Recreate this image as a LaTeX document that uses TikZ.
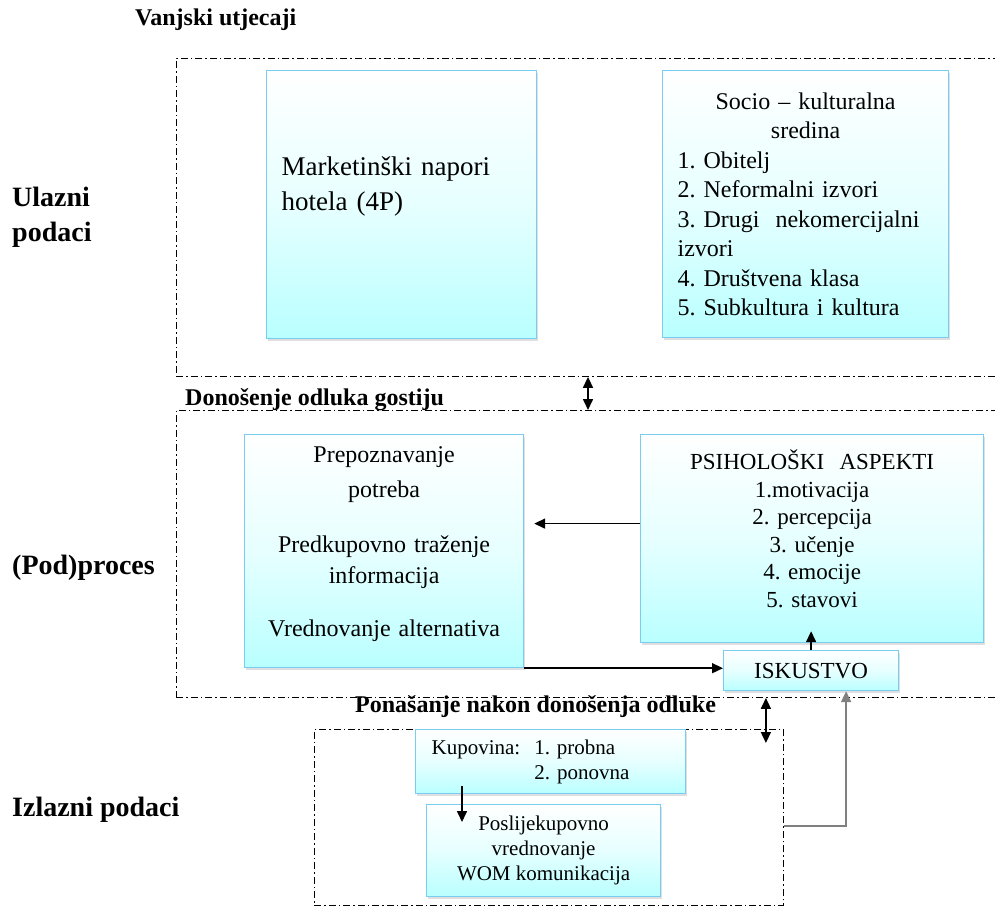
\documentclass[tikz,border=0pt]{standalone}
\usepackage{fontspec}
\setmainfont{Liberation Serif}
\usepackage{tikz}
\usepackage{xcolor}
\usetikzlibrary{positioning}
\usetikzlibrary{shadows}
\usetikzlibrary{arrows.meta}
\definecolor{boxcyan}{RGB}{185,255,255}
\definecolor{boxline}{RGB}{120,205,240}
\tikzstyle{infobox} = [rectangle, anchor=north west, inner sep=0pt, draw=boxline, line width=1.2pt, top color=white, bottom color=boxcyan, middle color=boxcyan!35, drop shadow={shadow xshift=1.5pt, shadow yshift=-2.5pt, opacity=0.25}]
\tikzstyle{frame} = [rectangle, anchor=north west, draw=black, line width=0.9pt, dash pattern=on 7pt off 3pt on 1.5pt off 3pt]
\tikzstyle{heading} = [anchor=west, inner sep=0pt, font=\fontsize{24}{29}\selectfont\bfseries]
\tikzstyle{sidelabel} = [anchor=west, inner sep=0pt, align=left, font=\fontsize{28}{35}\selectfont\bfseries]
\tikzstyle{arrow} = [line width=1.6pt, -{Triangle[length=11pt,width=10pt]}]
\tikzstyle{darrow} = [line width=1.6pt, {Triangle[length=11pt,width=10pt]}-{Triangle[length=11pt,width=10pt]}]
\tikzstyle{grayarrow} = [line width=2pt, draw=gray, -{Triangle[length=11pt,width=10pt]}]

\begin{document}
\frenchspacing
\begin{tikzpicture}[x=1pt, y=-1pt]
        \useasboundingbox (0,0) rectangle (995,907);

        \node (outer_influences) [frame, minimum width=840pt, minimum height=318pt] at (176,58) {};
        \node (decision_making) [frame, minimum width=840pt, minimum height=287pt] at (176,410) {};
        \node (post_behaviour) [frame, minimum width=469pt, minimum height=176pt] at (314,729) {};

        \node (outer_title) [heading] at (135,20) {Vanjski utjecaji};
        \node (decision_title) [heading] at (185,400) {Donošenje odluka gostiju};
        \node (behaviour_title) [heading] at (355,707) {Ponašanje nakon donošenja odluke};
        \node (input_label) [sidelabel] at (12,217) {Ulazni\\podaci};
        \node (process_label) [sidelabel] at (12,568) {(Pod)proces};
        \node (output_label) [sidelabel] at (12,810) {Izlazni podaci};

        \node (marketing) [infobox, minimum width=270pt, minimum height=268pt, text width=240pt, align=left, text depth=77pt, font=\fontsize{27}{35}\selectfont] at (266,70) {Marketinški napori\\hotela (4P)};
        \node (socio) [infobox, minimum width=286pt, minimum height=267pt, text width=256pt, font=\fontsize{24}{29.5}\selectfont] at (662,70) {{\centering Socio -- kulturalna\\sredina\par}1. Obitelj\\2. Neformalni izvori\\3. Drugi\ \ nekomercijalni\\izvori\\4. Društvena klasa\\5. Subkultura i kultura};
        \node (needs) [infobox, minimum width=279pt, minimum height=233pt, text width=270pt, align=center, text depth=194pt, font=\fontsize{24}{31}\selectfont] at (244,434) {Prepoznavanje\\[4pt]potreba\\[24pt]Predkupovno traženje\\informacija\\[22pt]Vrednovanje alternativa};
        \node (psycho) [infobox, minimum width=343pt, minimum height=208pt, text width=330pt, align=center, text depth=158pt, font=\fontsize{23}{27.6}\selectfont] at (640,434) {PSIHOLOŠKI\ \ ASPEKTI\\1.motivacija\\2. percepcija\\3. učenje\\4. emocije\\5. stavovi};
        \node (experience) [infobox, minimum width=175pt, minimum height=40pt, font=\fontsize{23}{27}\selectfont] at (723,650) {ISKUSTVO};
        \node (purchase) [infobox, minimum width=270pt, minimum height=64pt, text width=238pt, align=left, font=\fontsize{21}{25}\selectfont] at (415,729) {Kupovina:\ \ 1. probna\\\phantom{Kupovina:\ \ }2. ponovna};
        \node (post_purchase) [infobox, minimum width=234pt, minimum height=92pt, align=center, font=\fontsize{21}{25}\selectfont] at (426,804) {Poslijekupovno\\vrednovanje\\WOM komunikacija};

        \draw [darrow] ([xshift=412pt]outer_influences.south west) -- ([xshift=412pt]decision_making.north west);
        \draw [arrow, shorten >=10pt] ([yshift=15pt]psycho.west) -- ([yshift=15pt]psycho.west -| needs.east);
        \draw [arrow] (needs.south east) -- (needs.south east -| experience.west);
        \draw [arrow] (experience.north) -- ([yshift=12pt]psycho.south -| experience.north);
        \draw [darrow] ([xshift=-18pt]post_behaviour.north east |- decision_making.south) -- ([xshift=-18pt, yshift=-14pt]post_behaviour.north east);
        \draw [arrow] ([xshift=47pt, yshift=8pt]purchase.south west) -- ([xshift=36pt, yshift=-18pt]post_purchase.north west);
        \draw [grayarrow] ([yshift=-9pt]post_behaviour.east) -| ([xshift=35pt]experience.south);
    \end{tikzpicture}
\end{document}
